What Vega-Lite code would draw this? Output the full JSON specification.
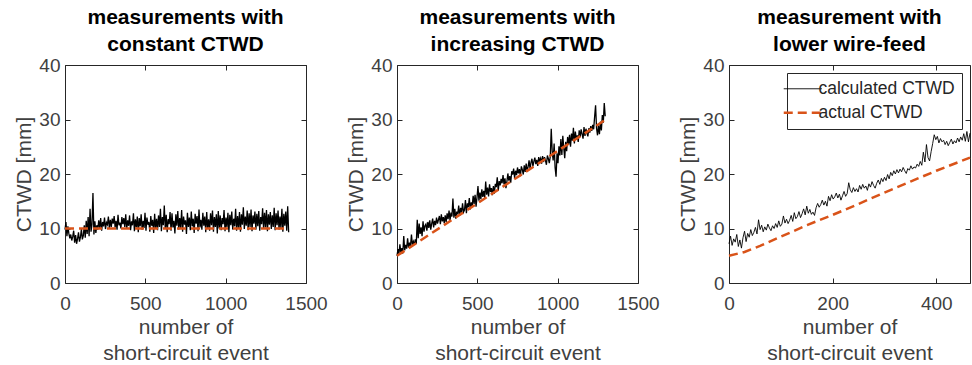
{
"$schema": "https://vega.github.io/schema/vega-lite/v6.json",
"background": "white",
"padding": {"left": 13, "top": 6, "right": 0, "bottom": 0},
"spacing": 91,
"bounds": "flush",
"resolve": {"scale": {"color": "independent"}, "legend": {"color": "independent"}},
"config": {
 "font": "Liberation Sans",
 "view": {"stroke": "#262626", "strokeWidth": 1},
 "axis": {"grid": false, "domain": false, "labelFlush": false, "labelFont": "Liberation Sans", "labelFontSize": 19, "labelColor": "#404040", "titleFont": "Liberation Sans", "titleFontSize": 21, "titleFontWeight": "normal", "titleColor": "#404040", "tickColor": "#262626", "tickSize": -5, "titleLineHeight": 26},
 "axisX": {"labelPadding": 16, "titlePadding": 3},
 "axisY": {"labelPadding": 10, "titlePadding": 4},
 "title": {"font": "Liberation Sans", "fontSize": 21, "fontWeight": "bold", "color": "#000000", "lineHeight": 27, "offset": 1, "anchor": "middle"}
},
"hconcat": [
{
 "width": 241, "height": 218,
 "title": {"text": ["measurements with", "constant CTWD"]},
 "layer": [
  {
   "data": {"values": [
{"x":0,"y":9.8},{"x":6,"y":11.2},{"x":12,"y":8.6},{"x":18,"y":10.4},{"x":24,"y":9.1},{"x":30,"y":8.2},{"x":36,"y":8.9},{"x":42,"y":7.8},{"x":48,"y":8.5},{"x":54,"y":9.6},
{"x":60,"y":7.4},{"x":66,"y":8.8},{"x":72,"y":7.2},{"x":78,"y":8.1},{"x":84,"y":9.3},{"x":90,"y":7.6},{"x":96,"y":8.4},{"x":102,"y":9.9},{"x":108,"y":8.0},{"x":114,"y":8.7},
{"x":120,"y":10.6},{"x":126,"y":8.3},{"x":132,"y":11.4},{"x":138,"y":9.0},{"x":144,"y":12.1},{"x":150,"y":8.6},{"x":156,"y":13.6},{"x":162,"y":9.4},{"x":168,"y":10.8},{"x":174,"y":16.5},
{"x":180,"y":8.9},{"x":186,"y":11.3},{"x":192,"y":9.2},{"x":198,"y":10.6},{"x":204,"y":9.8},{"x":210,"y":11.5},{"x":216,"y":10.1},{"x":222,"y":11.9},{"x":228,"y":9.6},{"x":234,"y":11.2},
{"x":240,"y":10.4},{"x":246,"y":12.0},{"x":252,"y":9.9},{"x":258,"y":11.1},{"x":264,"y":10.7},{"x":270,"y":12.2},{"x":276,"y":10.0},{"x":282,"y":11.6},{"x":288,"y":10.3},{"x":294,"y":11.8},
{"x":300,"y":10.9},{"x":306,"y":12.3},{"x":312,"y":10.2},{"x":318,"y":11.4},{"x":324,"y":9.8},{"x":330,"y":12.5},{"x":336,"y":10.6},{"x":342,"y":11.1},{"x":348,"y":10.0},{"x":354,"y":12.1},
{"x":360,"y":10.8},{"x":366,"y":11.9},{"x":372,"y":10.3},{"x":378,"y":12.6},{"x":384,"y":9.9},{"x":390,"y":11.5},{"x":396,"y":10.5},{"x":402,"y":12.4},{"x":408,"y":9.7},{"x":414,"y":11.3},
{"x":420,"y":10.6},{"x":426,"y":12.8},{"x":432,"y":9.5},{"x":438,"y":11.7},{"x":444,"y":10.2},{"x":450,"y":12.2},{"x":456,"y":9.3},{"x":462,"y":11.9},{"x":468,"y":10.4},{"x":474,"y":12.6},
{"x":480,"y":9.8},{"x":486,"y":11.4},{"x":492,"y":10.1},{"x":498,"y":12.9},{"x":504,"y":9.6},{"x":510,"y":12.0},{"x":516,"y":10.7},{"x":522,"y":11.2},{"x":528,"y":9.4},{"x":534,"y":12.3},
{"x":540,"y":10.5},{"x":546,"y":11.6},{"x":552,"y":9.2},{"x":558,"y":12.7},{"x":564,"y":10.0},{"x":570,"y":11.8},{"x":576,"y":9.7},{"x":582,"y":12.4},{"x":588,"y":10.3},{"x":594,"y":13.6},
{"x":600,"y":9.5},{"x":606,"y":12.1},{"x":612,"y":10.6},{"x":618,"y":14.2},{"x":624,"y":9.9},{"x":630,"y":12.5},{"x":636,"y":9.3},{"x":642,"y":11.7},{"x":648,"y":10.8},{"x":654,"y":13.0},
{"x":660,"y":9.6},{"x":666,"y":12.8},{"x":672,"y":10.2},{"x":678,"y":11.4},{"x":684,"y":9.1},{"x":690,"y":12.6},{"x":696,"y":10.5},{"x":702,"y":13.2},{"x":708,"y":9.8},{"x":714,"y":11.9},
{"x":720,"y":10.1},{"x":726,"y":13.4},{"x":732,"y":9.4},{"x":738,"y":12.2},{"x":744,"y":10.7},{"x":750,"y":11.5},{"x":756,"y":9.0},{"x":762,"y":12.9},{"x":768,"y":10.3},{"x":774,"y":12.0},
{"x":780,"y":9.7},{"x":786,"y":13.1},{"x":792,"y":10.4},{"x":798,"y":11.8},{"x":804,"y":9.2},{"x":810,"y":12.7},{"x":816,"y":10.9},{"x":822,"y":12.3},{"x":828,"y":9.5},{"x":834,"y":13.5},
{"x":840,"y":10.2},{"x":846,"y":11.6},{"x":852,"y":9.8},{"x":858,"y":12.9},{"x":864,"y":10.5},{"x":870,"y":12.2},{"x":876,"y":9.3},{"x":882,"y":13.0},{"x":888,"y":10.0},{"x":894,"y":11.7},
{"x":900,"y":9.6},{"x":906,"y":12.8},{"x":912,"y":10.6},{"x":918,"y":13.3},{"x":924,"y":9.4},{"x":930,"y":12.1},{"x":936,"y":10.3},{"x":942,"y":12.6},{"x":948,"y":9.1},{"x":954,"y":13.2},
{"x":960,"y":10.0},{"x":966,"y":12.4},{"x":972,"y":9.7},{"x":978,"y":11.9},{"x":984,"y":10.8},{"x":990,"y":13.4},{"x":996,"y":9.5},{"x":1002,"y":12.0},{"x":1008,"y":10.2},{"x":1014,"y":12.9},
{"x":1020,"y":9.3},{"x":1026,"y":12.5},{"x":1032,"y":10.6},{"x":1038,"y":13.1},{"x":1044,"y":9.8},{"x":1050,"y":11.8},{"x":1056,"y":10.4},{"x":1062,"y":13.6},{"x":1068,"y":9.6},{"x":1074,"y":12.3},
{"x":1080,"y":10.1},{"x":1086,"y":13.0},{"x":1092,"y":9.4},{"x":1098,"y":12.6},{"x":1104,"y":10.7},{"x":1110,"y":13.9},{"x":1116,"y":9.9},{"x":1122,"y":12.2},{"x":1128,"y":10.5},{"x":1134,"y":13.3},
{"x":1140,"y":9.7},{"x":1146,"y":12.8},{"x":1152,"y":10.3},{"x":1158,"y":13.5},{"x":1164,"y":9.5},{"x":1170,"y":12.4},{"x":1176,"y":10.9},{"x":1182,"y":13.1},{"x":1188,"y":9.8},{"x":1194,"y":12.7},
{"x":1200,"y":10.4},{"x":1206,"y":13.2},{"x":1212,"y":9.6},{"x":1218,"y":12.1},{"x":1224,"y":10.8},{"x":1230,"y":13.7},{"x":1236,"y":9.9},{"x":1242,"y":12.9},{"x":1248,"y":10.2},{"x":1254,"y":13.4},
{"x":1260,"y":9.5},{"x":1266,"y":12.6},{"x":1272,"y":10.7},{"x":1278,"y":13.0},{"x":1284,"y":9.9},{"x":1290,"y":12.4},{"x":1296,"y":10.3},{"x":1302,"y":13.8},{"x":1308,"y":9.7},{"x":1314,"y":12.8},
{"x":1320,"y":10.6},{"x":1326,"y":13.3},{"x":1332,"y":9.8},{"x":1338,"y":12.2},{"x":1344,"y":10.1},{"x":1350,"y":13.6},{"x":1356,"y":9.4},{"x":1362,"y":12.7},{"x":1368,"y":10.5},{"x":1374,"y":13.1},
{"x":1380,"y":9.6},{"x":1386,"y":14.1},{"x":1392,"y":9.3}
   ]},
   "mark": {"type": "line", "strokeWidth": 1.3},
   "encoding": {
    "x": {"field": "x", "type": "quantitative", "scale": {"domain": [0, 1500], "nice": false}, "axis": {"values": [0, 500, 1000, 1500], "format": "d", "title": ["number of", "short-circuit event"]}},
    "y": {"field": "y", "type": "quantitative", "scale": {"domain": [0, 40], "nice": false}, "axis": {"values": [0, 10, 20, 30, 40], "title": "CTWD [mm]"}},
    "color": {"datum": "calculated CTWD", "type": "nominal", "scale": {"domain": ["calculated CTWD", "actual CTWD"], "range": ["#000000", "#D95319"]}, "legend": null}
   }
  },
  {
   "data": {"values": [{"x":0,"y":10},{"x":1392,"y":10}]},
   "mark": {"type": "line", "strokeWidth": 2.5, "strokeDash": [9, 5]},
   "encoding": {
    "x": {"field": "x", "type": "quantitative", "scale": {"domain": [0, 1500], "nice": false}, "axis": {"orient": "top", "values": [0, 500, 1000, 1500], "labels": false, "title": null}},
    "y": {"field": "y", "type": "quantitative", "scale": {"domain": [0, 40], "nice": false}, "axis": {"orient": "right", "values": [0, 10, 20, 30, 40], "labels": false, "title": null}},
    "color": {"datum": "actual CTWD", "type": "nominal", "legend": null}
   }
  }
 ],
 "resolve": {"axis": {"x": "independent", "y": "independent"}}
},
{
 "width": 241, "height": 218,
 "title": {"text": ["measurements with", "increasing CTWD"]},
 "layer": [
  {
   "data": {"values": [
{"x":0,"y":5.0},{"x":6,"y":6.2},{"x":12,"y":5.3},{"x":18,"y":7.1},{"x":24,"y":5.6},{"x":30,"y":6.4},{"x":36,"y":5.4},{"x":42,"y":8.6},{"x":48,"y":6.0},{"x":54,"y":7.0},
{"x":60,"y":6.3},{"x":66,"y":8.2},{"x":72,"y":6.5},{"x":78,"y":7.4},{"x":84,"y":6.8},{"x":90,"y":8.9},{"x":96,"y":6.9},{"x":102,"y":7.6},{"x":108,"y":7.0},{"x":114,"y":8.0},
{"x":120,"y":7.2},{"x":126,"y":11.6},{"x":132,"y":8.2},{"x":138,"y":10.9},{"x":144,"y":9.0},{"x":150,"y":10.2},{"x":156,"y":8.6},{"x":162,"y":11.3},{"x":168,"y":9.4},{"x":174,"y":10.5},
{"x":180,"y":10.8},{"x":186,"y":9.6},{"x":192,"y":11.2},{"x":198,"y":10.1},{"x":204,"y":11.5},{"x":210,"y":9.8},{"x":216,"y":10.9},{"x":222,"y":11.8},{"x":228,"y":10.2},{"x":234,"y":11.4},
{"x":240,"y":10.6},{"x":246,"y":12.0},{"x":252,"y":10.9},{"x":258,"y":11.6},{"x":264,"y":12.3},{"x":270,"y":10.8},{"x":276,"y":12.6},{"x":282,"y":11.3},{"x":288,"y":12.1},{"x":294,"y":11.0},
{"x":300,"y":12.4},{"x":306,"y":11.2},{"x":312,"y":12.8},{"x":318,"y":11.7},{"x":324,"y":13.3},{"x":330,"y":11.5},{"x":336,"y":12.9},{"x":342,"y":12.2},{"x":348,"y":15.5},{"x":354,"y":12.0},
{"x":360,"y":13.6},{"x":366,"y":11.8},{"x":372,"y":13.1},{"x":378,"y":12.6},{"x":384,"y":14.2},{"x":390,"y":12.3},{"x":396,"y":13.8},{"x":402,"y":12.9},{"x":408,"y":14.6},{"x":414,"y":13.0},
{"x":420,"y":13.4},{"x":426,"y":15.2},{"x":432,"y":12.8},{"x":438,"y":14.6},{"x":444,"y":13.9},{"x":450,"y":15.6},{"x":456,"y":13.5},{"x":462,"y":14.8},{"x":468,"y":14.1},{"x":474,"y":16.0},
{"x":480,"y":14.5},{"x":486,"y":16.2},{"x":492,"y":14.0},{"x":498,"y":15.7},{"x":504,"y":17.8},{"x":510,"y":15.1},{"x":516,"y":16.6},{"x":522,"y":15.4},{"x":528,"y":17.2},{"x":534,"y":15.8},
{"x":540,"y":16.9},{"x":546,"y":15.6},{"x":552,"y":18.6},{"x":558,"y":16.2},{"x":564,"y":17.5},{"x":570,"y":15.9},{"x":576,"y":18.1},{"x":582,"y":16.7},{"x":588,"y":17.4},{"x":594,"y":16.1},
{"x":600,"y":17.8},{"x":606,"y":16.4},{"x":612,"y":18.2},{"x":618,"y":17.6},{"x":624,"y":19.4},{"x":630,"y":16.9},{"x":636,"y":18.7},{"x":642,"y":17.9},{"x":648,"y":19.1},{"x":654,"y":18.3},
{"x":660,"y":19.8},{"x":666,"y":18.1},{"x":672,"y":19.2},{"x":678,"y":17.4},{"x":684,"y":18.6},{"x":690,"y":20.1},{"x":696,"y":18.8},{"x":702,"y":19.6},{"x":708,"y":18.4},{"x":714,"y":20.5},
{"x":720,"y":19.9},{"x":726,"y":21.0},{"x":732,"y":19.3},{"x":738,"y":20.6},{"x":744,"y":19.8},{"x":750,"y":21.2},{"x":756,"y":20.1},{"x":762,"y":20.9},{"x":768,"y":19.6},{"x":774,"y":21.4},
{"x":780,"y":20.8},{"x":786,"y":19.9},{"x":792,"y":21.6},{"x":798,"y":20.4},{"x":804,"y":21.9},{"x":810,"y":20.7},{"x":816,"y":21.3},{"x":822,"y":22.5},{"x":828,"y":21.0},{"x":834,"y":22.1},
{"x":840,"y":22.8},{"x":846,"y":21.4},{"x":852,"y":22.3},{"x":858,"y":23.0},{"x":864,"y":21.8},{"x":870,"y":22.6},{"x":876,"y":21.5},{"x":882,"y":23.1},{"x":888,"y":22.4},{"x":894,"y":22.9},
{"x":900,"y":21.9},{"x":906,"y":23.3},{"x":912,"y":22.2},{"x":918,"y":23.1},{"x":924,"y":22.5},{"x":930,"y":21.7},{"x":936,"y":23.4},{"x":942,"y":22.8},{"x":948,"y":22.0},{"x":954,"y":23.2},
{"x":960,"y":28.3},{"x":966,"y":24.1},{"x":972,"y":22.5},{"x":978,"y":25.6},{"x":984,"y":21.2},{"x":990,"y":19.5},{"x":996,"y":23.8},{"x":1002,"y":22.0},{"x":1008,"y":25.1},{"x":1014,"y":23.4},
{"x":1020,"y":26.4},{"x":1026,"y":23.5},{"x":1032,"y":27.0},{"x":1038,"y":24.8},{"x":1044,"y":22.9},{"x":1050,"y":25.9},{"x":1056,"y":24.2},{"x":1062,"y":26.8},{"x":1068,"y":25.4},{"x":1074,"y":27.2},
{"x":1080,"y":25.0},{"x":1086,"y":27.4},{"x":1092,"y":26.1},{"x":1098,"y":28.5},{"x":1104,"y":25.6},{"x":1110,"y":27.8},{"x":1116,"y":26.4},{"x":1122,"y":27.1},{"x":1128,"y":25.9},{"x":1134,"y":28.0},
{"x":1140,"y":26.8},{"x":1146,"y":28.2},{"x":1152,"y":27.3},{"x":1158,"y":26.5},{"x":1164,"y":28.6},{"x":1170,"y":27.0},{"x":1176,"y":28.3},{"x":1182,"y":27.5},{"x":1188,"y":26.9},{"x":1194,"y":28.4},
{"x":1200,"y":27.6},{"x":1206,"y":28.8},{"x":1212,"y":27.9},{"x":1218,"y":29.0},{"x":1224,"y":28.2},{"x":1230,"y":30.5},{"x":1236,"y":32.6},{"x":1242,"y":28.4},{"x":1248,"y":27.1},{"x":1254,"y":28.9},
{"x":1260,"y":27.3},{"x":1266,"y":29.6},{"x":1272,"y":28.0},{"x":1278,"y":30.8},{"x":1284,"y":29.4},{"x":1290,"y":33.0},{"x":1296,"y":30.6}
   ]},
   "mark": {"type": "line", "strokeWidth": 1.3},
   "encoding": {
    "x": {"field": "x", "type": "quantitative", "scale": {"domain": [0, 1500], "nice": false}, "axis": {"values": [0, 500, 1000, 1500], "format": "d", "title": ["number of", "short-circuit event"]}},
    "y": {"field": "y", "type": "quantitative", "scale": {"domain": [0, 40], "nice": false}, "axis": {"values": [0, 10, 20, 30, 40], "title": "CTWD [mm]"}},
    "color": {"datum": "calculated CTWD", "type": "nominal", "scale": {"domain": ["calculated CTWD", "actual CTWD"], "range": ["#000000", "#D95319"]}, "legend": null}
   }
  },
  {
   "data": {"values": [{"x":0,"y":5},{"x":1300,"y":30}]},
   "mark": {"type": "line", "strokeWidth": 2.5, "strokeDash": [9, 5]},
   "encoding": {
    "x": {"field": "x", "type": "quantitative", "scale": {"domain": [0, 1500], "nice": false}, "axis": {"orient": "top", "values": [0, 500, 1000, 1500], "labels": false, "title": null}},
    "y": {"field": "y", "type": "quantitative", "scale": {"domain": [0, 40], "nice": false}, "axis": {"orient": "right", "values": [0, 10, 20, 30, 40], "labels": false, "title": null}},
    "color": {"datum": "actual CTWD", "type": "nominal", "legend": null}
   }
  }
 ],
 "resolve": {"axis": {"x": "independent", "y": "independent"}}
},
{
 "width": 241, "height": 218,
 "title": {"text": ["measurement with", "lower wire-feed"]},
 "layer": [
  {
   "data": {"values": [
{"x":0,"y":7.2},{"x":3,"y":8.6},{"x":6,"y":6.9},{"x":9,"y":8.1},{"x":12,"y":7.5},{"x":15,"y":8.9},{"x":18,"y":6.7},{"x":21,"y":7.9},{"x":24,"y":6.4},{"x":27,"y":8.3},
{"x":30,"y":9.5},{"x":33,"y":7.6},{"x":36,"y":9.1},{"x":39,"y":8.4},{"x":42,"y":9.8},{"x":45,"y":8.7},{"x":48,"y":9.3},{"x":51,"y":10.2},{"x":54,"y":9.0},{"x":57,"y":11.6},
{"x":60,"y":9.8},{"x":63,"y":10.6},{"x":66,"y":9.4},{"x":69,"y":10.3},{"x":72,"y":9.7},{"x":75,"y":10.8},{"x":78,"y":10.1},{"x":81,"y":9.6},{"x":84,"y":10.5},{"x":87,"y":10.0},
{"x":90,"y":10.9},{"x":93,"y":10.2},{"x":96,"y":11.4},{"x":99,"y":10.4},{"x":102,"y":10.8},{"x":105,"y":12.3},{"x":108,"y":11.0},{"x":111,"y":11.7},{"x":114,"y":10.9},{"x":117,"y":11.5},
{"x":120,"y":12.4},{"x":123,"y":11.3},{"x":126,"y":12.9},{"x":129,"y":11.8},{"x":132,"y":12.2},{"x":135,"y":13.1},{"x":138,"y":12.0},{"x":141,"y":12.7},{"x":144,"y":13.6},{"x":147,"y":12.5},
{"x":150,"y":14.1},{"x":153,"y":12.8},{"x":156,"y":13.5},{"x":159,"y":12.6},{"x":162,"y":13.0},{"x":165,"y":12.4},{"x":168,"y":13.8},{"x":171,"y":14.6},{"x":174,"y":13.9},{"x":177,"y":14.4},
{"x":180,"y":15.2},{"x":183,"y":14.3},{"x":186,"y":15.0},{"x":189,"y":14.1},{"x":192,"y":15.9},{"x":195,"y":15.1},{"x":198,"y":16.2},{"x":201,"y":15.4},{"x":204,"y":15.8},{"x":207,"y":16.5},
{"x":210,"y":15.6},{"x":213,"y":16.3},{"x":216,"y":15.2},{"x":219,"y":16.0},{"x":222,"y":16.8},{"x":225,"y":15.9},{"x":228,"y":16.4},{"x":231,"y":18.4},{"x":234,"y":17.1},{"x":237,"y":16.6},
{"x":240,"y":17.5},{"x":243,"y":16.8},{"x":246,"y":17.3},{"x":249,"y":16.7},{"x":252,"y":17.9},{"x":255,"y":17.2},{"x":258,"y":18.1},{"x":261,"y":17.4},{"x":264,"y":17.8},{"x":267,"y":17.0},
{"x":270,"y":18.2},{"x":273,"y":17.6},{"x":276,"y":18.6},{"x":279,"y":17.9},{"x":282,"y":17.4},{"x":285,"y":18.3},{"x":288,"y":18.9},{"x":291,"y":18.1},{"x":294,"y":19.2},{"x":297,"y":18.6},
{"x":300,"y":19.4},{"x":303,"y":18.8},{"x":306,"y":19.9},{"x":309,"y":19.1},{"x":312,"y":20.3},{"x":315,"y":19.7},{"x":318,"y":20.6},{"x":321,"y":20.0},{"x":324,"y":20.8},{"x":327,"y":20.2},
{"x":330,"y":20.9},{"x":333,"y":20.4},{"x":336,"y":21.2},{"x":339,"y":20.6},{"x":342,"y":20.1},{"x":345,"y":21.0},{"x":348,"y":20.7},{"x":351,"y":21.5},{"x":354,"y":20.9},{"x":357,"y":21.3},
{"x":360,"y":21.1},{"x":363,"y":21.8},{"x":366,"y":21.4},{"x":369,"y":22.3},{"x":372,"y":21.6},{"x":375,"y":24.0},{"x":378,"y":22.2},{"x":381,"y":25.4},{"x":384,"y":23.0},{"x":387,"y":22.4},
{"x":390,"y":24.1},{"x":393,"y":25.6},{"x":396,"y":27.2},{"x":399,"y":26.3},{"x":402,"y":26.9},{"x":405,"y":25.7},{"x":408,"y":26.5},{"x":411,"y":25.9},{"x":414,"y":26.2},{"x":417,"y":25.4},
{"x":420,"y":26.0},{"x":423,"y":25.2},{"x":426,"y":25.8},{"x":429,"y":26.4},{"x":432,"y":25.5},{"x":435,"y":26.1},{"x":438,"y":25.7},{"x":441,"y":26.6},{"x":444,"y":25.9},{"x":447,"y":26.8},
{"x":450,"y":26.2},{"x":453,"y":27.4},{"x":456,"y":26.0},{"x":459,"y":27.8},{"x":462,"y":25.9},{"x":465,"y":27.5}
   ]},
   "mark": {"type": "line", "strokeWidth": 0.9},
   "encoding": {
    "x": {"field": "x", "type": "quantitative", "scale": {"domain": [0, 465], "nice": false}, "axis": {"values": [0, 200, 400], "format": "d", "title": ["number of", "short-circuit event"]}},
    "y": {"field": "y", "type": "quantitative", "scale": {"domain": [0, 40], "nice": false}, "axis": {"values": [0, 10, 20, 30, 40], "title": "CTWD [mm]"}},
    "color": {"datum": "calculated CTWD", "type": "nominal", "scale": {"domain": ["calculated CTWD", "actual CTWD"], "range": ["#000000", "#D95319"]},
      "legend": {"orient": "top-right", "title": null, "symbolType": "stroke", "symbolSize": 1444, "labelFont": "Liberation Sans", "labelFontSize": 17.5, "labelColor": "#262626", "strokeColor": "#262626", "fillColor": "white", "padding": 7, "offset": 8, "labelOffset": 7, "rowPadding": 5, "symbolStrokeWidth": 1,
        "encode": {"symbols": {"update": {"strokeDash": {"signal": "datum.value === 'actual CTWD' ? [9, 5] : [1, 0]"}, "strokeWidth": {"signal": "datum.value === 'actual CTWD' ? 2.5 : 1"}}}}}}
   }
  },
  {
   "data": {"values": [{"x":0,"y":5.0},{"x":30,"y":5.7},{"x":60,"y":6.8},{"x":100,"y":8.5},{"x":150,"y":10.6},{"x":200,"y":12.5},{"x":250,"y":14.5},{"x":300,"y":16.6},{"x":350,"y":18.6},{"x":400,"y":20.6},{"x":465,"y":23.0}]},
   "mark": {"type": "line", "strokeWidth": 2.5, "strokeDash": [9, 5]},
   "encoding": {
    "x": {"field": "x", "type": "quantitative", "scale": {"domain": [0, 465], "nice": false}, "axis": {"orient": "top", "values": [0, 200, 400], "labels": false, "title": null}},
    "y": {"field": "y", "type": "quantitative", "scale": {"domain": [0, 40], "nice": false}, "axis": {"orient": "right", "values": [0, 10, 20, 30, 40], "labels": false, "title": null}},
    "color": {"datum": "actual CTWD", "type": "nominal"}
   }
  }
 ],
 "resolve": {"axis": {"x": "independent", "y": "independent"}}
}
]
}
